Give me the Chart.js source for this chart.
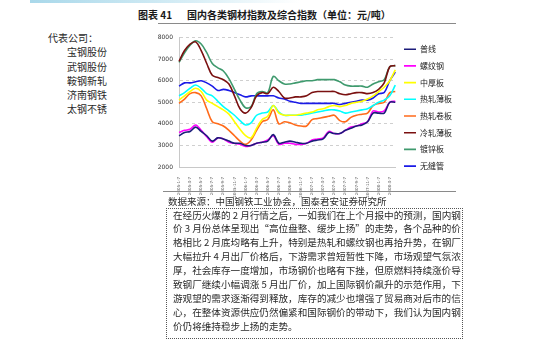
<!DOCTYPE html>
<html>
<head>
<meta charset="utf-8">
<script src="https://cdn.jsdelivr.net/npm/chart.js@4.4.1/dist/chart.umd.min.js"></script>
<style>
  html, body { margin: 0; padding: 0; background: #fff; }
  body { width: 540px; height: 342px; position: relative; overflow: hidden;
         font-family: "Noto Sans CJK SC", "Noto Sans", sans-serif; color: #1a1a1a; }
  .band { position: absolute; left: 30px; top: 0; width: 270px; height: 3px;
          background: linear-gradient(to right, #a9d8ea, #d8eef6 60%, #fff); }
  .title { position: absolute; top: 8px; left: 138px; font-size: 10px; font-weight: bold; line-height: 14px; white-space: nowrap; }
  .title .no { display: inline-block; width: 49px; }
  .rule { position: absolute; left: 158px; width: 298px; height: 1px; background: #8a8a8a; }
  .companies { position: absolute; left: 48px; top: 31px; font-size: 10px; line-height: 14.3px; color: #2a2a2a; }
  .companies div { padding-left: 19px; }
  .companies div.head { padding-left: 0; }
  #wrap { position: absolute; left: 150px; top: 28px; width: 350px; height: 172px; }
  .source { position: absolute; left: 168px; top: 195px; font-size: 9.5px; line-height: 13px; white-space: nowrap; color: #2a2a2a; }
  .box { position: absolute; left: 166px; top: 208px; width: 297px; height: 131px;
         border: 1px dotted #555; box-sizing: border-box; }
  .box p { margin: 0; position: absolute; left: 6px; width: 283px; font-size: 9.6px; line-height: 13.9px; color: #2a2a2a;
           text-align: justify; text-align-last: justify; white-space: nowrap; }
  .box p.last { text-align-last: left; }
</style>
</head>
<body>
<div class="band"></div>
<div class="title"><span class="no">图表 41</span>国内各类钢材指数及综合指数（单位：元/吨）</div>
<div class="rule" style="top:23px"></div>
<div class="companies">
  <div class="head">代表公司：</div>
  <div>宝钢股份</div>
  <div>武钢股份</div>
  <div>鞍钢新轧</div>
  <div>济南钢铁</div>
  <div>太钢不锈</div>
</div>
<div id="wrap"><canvas id="steelChart"></canvas></div>
<div class="rule" style="top:191px; left:163px; width:293px"></div>
<div class="source">数据来源：中国钢铁工业协会，国泰君安证券研究所</div>
<div class="box">
  <p style="top:-0.5px">在经历火爆的 2 月行情之后，一如我们在上个月报中的预测，国内钢</p>
  <p style="top:13.4px">价 3 月份总体呈现出“高位盘整、缓步上扬”的走势，各个品种的价</p>
  <p style="top:27.3px">格相比 2 月底均略有上升，特别是热轧和螺纹钢也再拾升势，在钢厂</p>
  <p style="top:41.2px">大幅拉升 4 月出厂价格后，下游需求曾短暂性下降，市场观望气氛浓</p>
  <p style="top:55.1px">厚，社会库存一度增加，市场钢价也略有下挫，但原燃料持续涨价导</p>
  <p style="top:69px">致钢厂继续小幅调涨 5 月出厂价，加上国际钢价飙升的示范作用，下</p>
  <p style="top:82.9px">游观望的需求逐渐得到释放，库存的减少也增强了贸易商对后市的信</p>
  <p style="top:96.8px">心，在整体资源供应仍然偏紧和国际钢价的带动下，我们认为国内钢</p>
  <p style="top:110.7px" class="last">价仍将维持稳步上扬的走势。</p>
</div>

<script>
// monthly index points, 2005-01 .. 2008-04 (元/吨)
const months = [];
for (let y = 2005; y <= 2008; y++) {
    for (let m = 1; m <= 12; m++) {
        if (y === 2008 && m > 4) break;
        months.push(y + '-' + m + '-7');
    }
}

const wireRod      = [3450, 3600, 3650, 3850, 3650, 3450, 3200, 3350, 3300, 3200, 3100, 3100, 3000, 3000, 3100, 3150, 3200, 3500, 3100, 3150, 3200, 3150, 3100, 3100, 3200, 3250, 3300, 3600, 3550, 3550, 3700, 3800, 3900, 3950, 4100, 4500, 4500, 4500, 5000, 5000];
const rebar        = [3600, 3700, 3750, 3950, 3700, 3400, 3150, 3350, 3300, 3150, 3100, 3050, 2950, 3000, 3100, 3150, 3250, 3450, 3050, 3100, 3100, 3050, 3050, 3100, 3250, 3300, 3350, 3650, 3550, 3550, 3700, 3850, 3900, 4000, 4100, 4600, 4550, 4600, 5000, 5050];
const mediumPlate  = [5100, 5300, 5500, 5650, 5500, 5100, 4950, 4800, 4650, 4450, 4100, 3750, 3450, 3350, 3800, 4200, 4350, 4850, 4500, 4400, 4400, 4400, 4450, 4500, 4550, 4650, 4700, 4800, 4850, 4800, 4850, 4950, 5000, 5050, 5150, 5300, 5500, 5700, 6000, 6500];
const hotThin      = [5300, 5450, 5650, 5800, 5650, 5400, 5300, 5050, 4800, 4600, 4400, 4150, 3950, 4050, 4400, 4500, 4550, 4850, 4550, 4400, 4400, 4400, 4400, 4450, 4500, 4550, 4600, 4650, 4650, 4600, 4500, 4550, 4600, 4650, 4700, 4850, 5000, 5100, 5300, 5800];
const hotCoil      = [4950, 5150, 5400, 5450, 5300, 4700, 4100, 4000, 3900, 3700, 3450, 3200, 3050, 3250, 3700, 4100, 4200, 4650, 4000, 4100, 4050, 3950, 3900, 3900, 4200, 4250, 4300, 4350, 4400, 4150, 4100, 4300, 4400, 4450, 4500, 4850, 4950, 5000, 5450, 5500];
const coldThin     = [6900, 7400, 7700, 7800, 7400, 6800, 6250, 6150, 6050, 5850, 5300, 4700, 4500, 4750, 5300, 5450, 5400, 5700, 5500, 5200, 5200, 5250, 5250, 5300, 5450, 5500, 5500, 5500, 5500, 5400, 5350, 5400, 5450, 5450, 5400, 5450, 5600, 5900, 6650, 6700];
const galvanized   = [6850, 7300, 7650, 7850, 7700, 7300, 6800, 6600, 6450, 6100, 5600, 5100, 4750, 4800, 5400, 5500, 5450, 6200, 6000, 5850, 5850, 5900, 5950, 6000, 6000, 6050, 6050, 6050, 6050, 5950, 5800, 5750, 5750, 5750, 5700, 5850, 5950, 6050, 6650, 6700];
const seamlessPipe = [5750, 5900, 5900, 5950, 6000, 5900, 5750, 5550, 5600, 5550, 5450, 5350, 5250, 5300, 5300, 5300, 5300, 5300, 5200, 5150, 5050, 5000, 4950, 4950, 4950, 4950, 4950, 4950, 4950, 4900, 4950, 5000, 5050, 5100, 5100, 5200, 5400, 5450, 6000, 6400];

const seriesNames = ['普线', '螺纹钢', '中厚板', '热轧薄板', '热轧卷板', '冷轧薄板', '镀锌板', '无缝管'];
const seriesData = [wireRod, rebar, mediumPlate, hotThin, hotCoil, coldThin, galvanized, seamlessPipe];
const seriesColors = ['#1c1c7a', '#ff00ff', '#ffff00', '#00ffff', '#ff6a1a', '#7a1010', '#3f9a6e', '#1a1ae6'];

const yTicks = [2000, 3000, 4000, 5000, 6000, 7000, 8000];

function buildChart() {
    const ctx = document.getElementById('steelChart').getContext('2d');
    new Chart(ctx, {
        type: 'line',
        data: {
            labels: months,
            datasets: seriesNames.map((name, i) => ({
                label: name,
                data: seriesData[i],
                borderColor: seriesColors[i],
                backgroundColor: seriesColors[i],
                borderWidth: 1.6,
                pointRadius: 0,
                tension: 0.35,
                fill: false
            }))
        },
        options: {
            responsive: true,
            maintainAspectRatio: false,
            animation: false,
            layout: { padding: { top: 8.5, right: 38, left: 0, bottom: 0 } },
            plugins: {
                tooltip: { enabled: false },
                legend: {
                    position: 'right',
                    align: 'start',
                    labels: {
                        usePointStyle: true,
                        pointStyle: 'line',
                        pointStyleWidth: 12,
                        padding: 8.7,
                        color: '#1a1a1a',
                        font: { family: '"Noto Sans CJK SC", sans-serif', size: 8 }
                    }
                }
            },
            scales: {
                x: {
                    grid: { display: false },
                    border: { color: '#c8c8c8' },
                    afterFit: s => { s.height = 33; },
                    ticks: {
                        autoSkip: false,
                        maxRotation: 90,
                        minRotation: 90,
                        padding: 2,
                        color: '#555',
                        font: { family: 'DejaVu Sans', size: 4 },
                        callback: (v, i) => (i % 2 === 0 ? months[i] : '')
                    }
                },
                y: {
                    min: yTicks[0],
                    max: yTicks[yTicks.length - 1],
                    afterFit: s => { s.width = 29; },
                    afterBuildTicks: s => { s.ticks = yTicks.map(v => ({ value: v })); },
                    border: { color: '#c8c8c8', display: true, dash: [3, 3] },
                    grid: { color: '#cfcfcf', lineWidth: 1, drawTicks: false },
                    ticks: {
                        padding: 6,
                        color: '#333',
                        font: { family: 'DejaVu Sans', size: 6 },
                        callback: v => String(v)
                    }
                }
            }
        }
    });
}

document.addEventListener('DOMContentLoaded', buildChart);
</script>
</body>
</html>
